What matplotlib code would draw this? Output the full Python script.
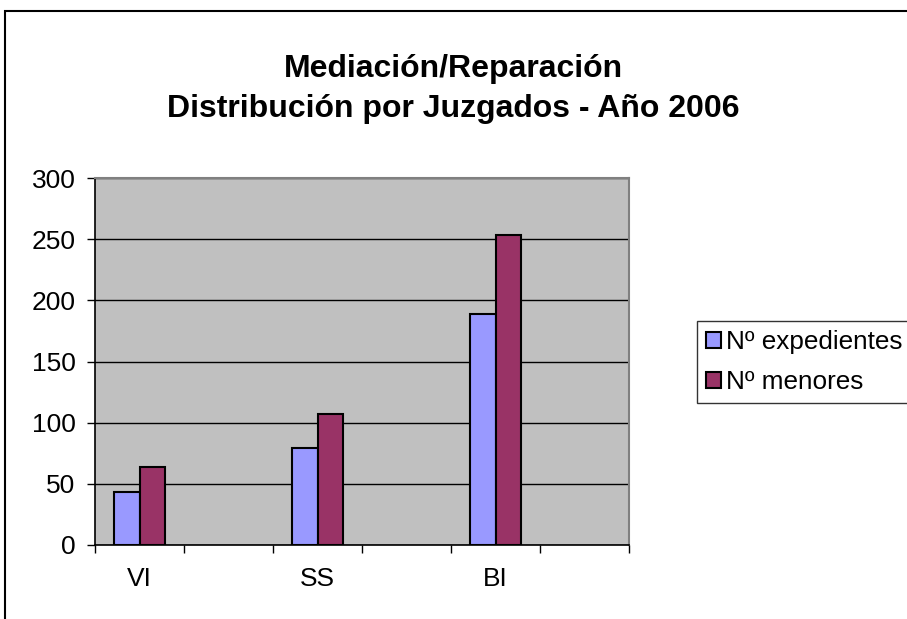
import numpy as np
import matplotlib
matplotlib.use('Agg')
import matplotlib.pyplot as plt
from matplotlib.patches import Rectangle

plt.rcParams['font.family'] = ['Liberation Sans', 'DejaVu Sans']

# Data
categories = ['VI', '', 'SS', '', 'BI', '']
expedientes = [43, np.nan, 79, np.nan, 189, np.nan]
menores = [64, np.nan, 107, np.nan, 253, np.nan]
series_names = ['Nº expedientes', 'Nº menores']
title = 'Mediación/Reparación\nDistribución por Juzgados - Año 2006'

fig = plt.figure(figsize=(9.07, 6.19), dpi=100)
ax = fig.add_axes([95 / 907, 1 - 545 / 619, 534 / 907, 367 / 619])
ax.set_facecolor('#C0C0C0')

x = np.arange(len(categories))
w = 0.292
ax.bar(x - w / 2, expedientes, w, color='#9999FF', edgecolor='black', linewidth=1.5,
       label=series_names[0], zorder=3)
ax.bar(x + w / 2, menores, w, color='#993366', edgecolor='black', linewidth=1.5,
       label=series_names[1], zorder=3)

ax.set_ylim(0, 300)
ax.set_yticks(np.arange(0, 301, 50))
ax.yaxis.grid(True, color='black', linewidth=1.0, zorder=1)
ax.set_axisbelow(True)
ax.tick_params(axis='y', labelsize=19, length=6, width=1, pad=8)

ax.set_xlim(-0.5, len(categories) - 0.5)
ax.set_xticks(np.arange(-0.5, len(categories), 1.0))
ax.set_xticklabels([])
ax.set_xticks(x, minor=True)
ax.set_xticklabels(categories, minor=True, fontsize=19)
ax.tick_params(axis='x', which='minor', length=0, pad=16)
ax.tick_params(axis='x', which='major', length=6, width=1)

for s in ['left', 'bottom']:
    ax.spines[s].set_color('black')
    ax.spines[s].set_linewidth(1.2)
for s in ['top', 'right']:
    ax.spines[s].set_color('#808080')
    ax.spines[s].set_linewidth(1.5)

fig.text(0.5, 1 - 89 / 619, title, ha='center', va='center', fontsize=23,
         fontweight='bold', linespacing=1.45)

leg = fig.legend(loc='center left', bbox_to_anchor=(697 / 907, 1 - 362 / 619),
                 fontsize=18.8, frameon=True, fancybox=False, edgecolor='black',
                 handlelength=0.55, handleheight=0.55, handletextpad=0.2,
                 borderpad=0.35, labelspacing=0.62, borderaxespad=0)
leg.get_frame().set_linewidth(1.0)

# outer chart border (cut at right and bottom)
fig.patches.append(Rectangle((5 / 907, -0.1), 1.1, 1 - 11 / 619 + 0.1,
                             transform=fig.transFigure, fill=False,
                             edgecolor='black', linewidth=1.5))

fig.savefig('out.png', dpi=100)
